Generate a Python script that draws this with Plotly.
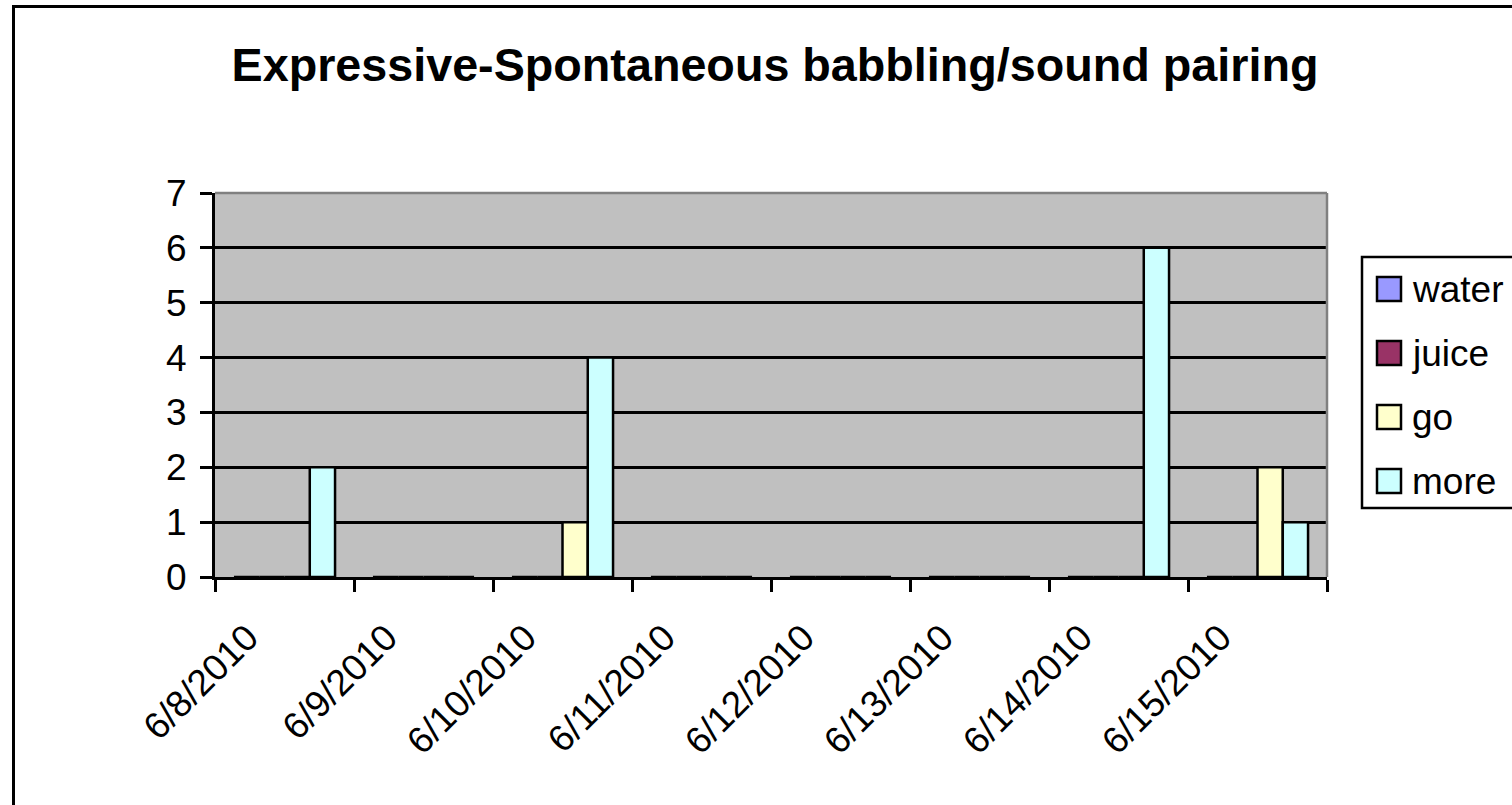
import plotly.graph_objects as go

# ---- data ----
dates = ["6/8/2010", "6/9/2010", "6/10/2010", "6/11/2010",
         "6/12/2010", "6/13/2010", "6/14/2010", "6/15/2010"]
series_names = ["water", "juice", "go", "more"]
water = [0, 0, 0, 0, 0, 0, 0, 0]
juice = [0, 0, 0, 0, 0, 0, 0, 0]
go_vals = [0, 0, 1, 0, 0, 0, 0, 2]
more = [2, 0, 4, 0, 0, 0, 6, 1]
series_values = [water, juice, go_vals, more]
series_colors = ["#9999FF", "#993366", "#FFFFCC", "#CCFFFF"]
y_ticks = [0, 1, 2, 3, 4, 5, 6, 7]
title_text = "Expressive-Spontaneous babbling/sound pairing"

FONT = "Liberation Sans, Arial, sans-serif"
W, H = 1512, 805
# plot area in page pixels: x 215..1327, y 193..577
ML = 215
MR = W - 1327
MT = 193
MB = H - 577
PW = W - ML - MR
PH = H - MT - MB


def px_x(px):
    return (px - ML) / PW


def px_y(py):
    return (H - MB - py) / PH


fig = go.Figure()
for name, vals, col in zip(series_names, series_values, series_colors):
    fig.add_trace(go.Bar(
        x=dates, y=vals, name=name,
        marker=dict(color=col, line=dict(color="black", width=2.5)),
        showlegend=False,
    ))

shapes = []
# outer chart frame (extends beyond the visible window on right/bottom)
shapes.append(dict(type="rect", xref="paper", yref="paper",
                   x0=px_x(13.5), x1=px_x(1700), y0=px_y(900), y1=px_y(6.5),
                   line=dict(color="black", width=3), fillcolor="rgba(0,0,0,0)",
                   layer="below"))
# plot area top/right border (gray)
shapes.append(dict(type="line", xref="paper", yref="paper",
                   x0=0, x1=1, y0=1, y1=1, line=dict(color="#808080", width=2.5)))
shapes.append(dict(type="line", xref="paper", yref="paper",
                   x0=1, x1=1, y0=0, y1=1, line=dict(color="#808080", width=2.5)))
# legend box
shapes.append(dict(type="rect", xref="paper", yref="paper",
                   x0=px_x(1362), x1=px_x(1700), y0=px_y(508), y1=px_y(257),
                   line=dict(color="black", width=2.5), fillcolor="white"))

annotations = []
row_y = [289, 353, 417, 481]
for name, col, ry in zip(series_names, series_colors, row_y):
    shapes.append(dict(type="rect", xref="paper", yref="paper",
                       x0=px_x(1377), x1=px_x(1401), y0=px_y(ry + 12), y1=px_y(ry - 12),
                       line=dict(color="black", width=2.5), fillcolor=col))
    annotations.append(dict(text=name, xref="paper", yref="paper",
                            x=px_x(1410), y=px_y(ry), xanchor="left", yanchor="middle",
                            showarrow=False,
                            font=dict(family=FONT, size=37, color="black")))

fig.update_layout(
    width=W, height=H,
    margin=dict(l=ML, r=MR, t=MT, b=MB, autoexpand=False),
    paper_bgcolor="white",
    plot_bgcolor="#C0C0C0",
    barmode="group",
    bargap=1.5 / 5.5,
    bargroupgap=0,
    font=dict(family=FONT, color="black", size=37),
    title=dict(text="<b>" + title_text + "</b>", xref="paper", x=px_x(775),
               xanchor="center", yref="container", y=1 - 65 / H,
               yanchor="middle",
               font=dict(family=FONT, size=46.7, color="black")),
    xaxis=dict(type="category", categoryorder="array", categoryarray=dates,
               tickson="boundaries", ticks="outside", ticklen=12, tickwidth=2.5,
               tickcolor="black", showline=True, linecolor="black", linewidth=3,
               showgrid=False, tickangle=-45,
               ticklabelshift=-37, ticklabelstandoff=21,
               tickfont=dict(family=FONT, size=37, color="black")),
    yaxis=dict(range=[0, 7], tickvals=y_ticks, ticks="outside", ticklen=12,
               tickwidth=2.5, tickcolor="black", showline=True, linecolor="black",
               linewidth=3, showgrid=True, gridcolor="black", gridwidth=2.5,
               zeroline=False, ticklabelstandoff=6,
               tickfont=dict(family=FONT, size=37, color="black")),
    shapes=shapes,
    annotations=annotations,
)

fig.write_html("out.html",
               config={"displayModeBar": False},
               post_script="document.body.style.margin='0px';"
                           "document.body.style.overflow='hidden';")
